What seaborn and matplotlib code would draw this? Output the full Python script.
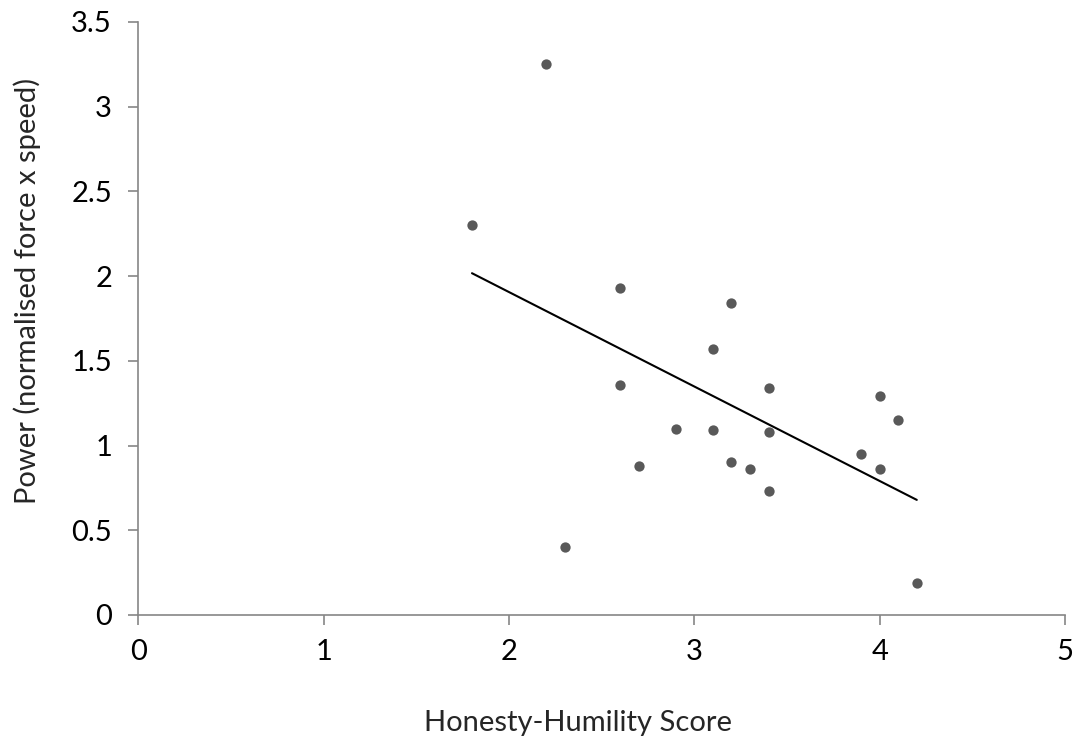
import numpy as np
import pandas as pd
import seaborn as sns
import matplotlib.pyplot as plt

# Honesty-Humility score vs power
hh_score = [2.2, 1.8, 2.6, 3.2, 3.1, 2.6, 3.4, 4.0, 4.1, 2.9,
            3.1, 3.4, 2.7, 3.2, 3.3, 3.4, 3.9, 4.0, 2.3, 4.2]
power = [3.25, 2.30, 1.93, 1.84, 1.57, 1.36, 1.34, 1.29, 1.15, 1.10,
         1.09, 1.08, 0.88, 0.90, 0.86, 0.73, 0.95, 0.86, 0.40, 0.19]

df = pd.DataFrame({"score": hh_score, "power": power})

sns.set_theme(style="white")
plt.rcParams["font.family"] = ["Lato", "DejaVu Sans"]

fig = plt.figure(figsize=(10.77, 7.38), dpi=100)
ax = fig.add_axes([0.1285, 0.1667, 0.8604, 0.8035])

sns.regplot(data=df, x="score", y="power", ax=ax, ci=None, truncate=True,
            scatter_kws={"color": "#595959", "s": 55, "linewidths": 0, "alpha": 1},
            line_kws={"color": "black", "linewidth": 1.5})

ax.set_xlim(0, 5)
ax.set_ylim(0, 3.5)
ax.set_xticks(range(0, 6))
ax.set_yticks(np.arange(0, 3.51, 0.5))
ax.set_yticklabels(["0", "0.5", "1", "1.5", "2", "2.5", "3", "3.5"])

for side in ["top", "right"]:
    ax.spines[side].set_visible(False)
for side in ["left", "bottom"]:
    ax.spines[side].set_color("#868686")
    ax.spines[side].set_linewidth(1.2)

ax.tick_params(axis="both", which="major", direction="out", length=7, width=1.2,
               color="#868686", labelsize=21, labelcolor="black",
               bottom=True, left=True)
ax.tick_params(axis="x", pad=10)
ax.tick_params(axis="y", pad=12)

ax.set_xlabel("Honesty-Humility Score", fontsize=21)
ax.set_ylabel("Power (normalised force x speed)", fontsize=21)
# Excel puts the titles a bit off-centre; match that
ax.xaxis.set_label_coords(0.4746, -0.160)
ax.yaxis.set_label_coords(-0.105, 0.546)

fig.savefig("out.png", dpi=100)
